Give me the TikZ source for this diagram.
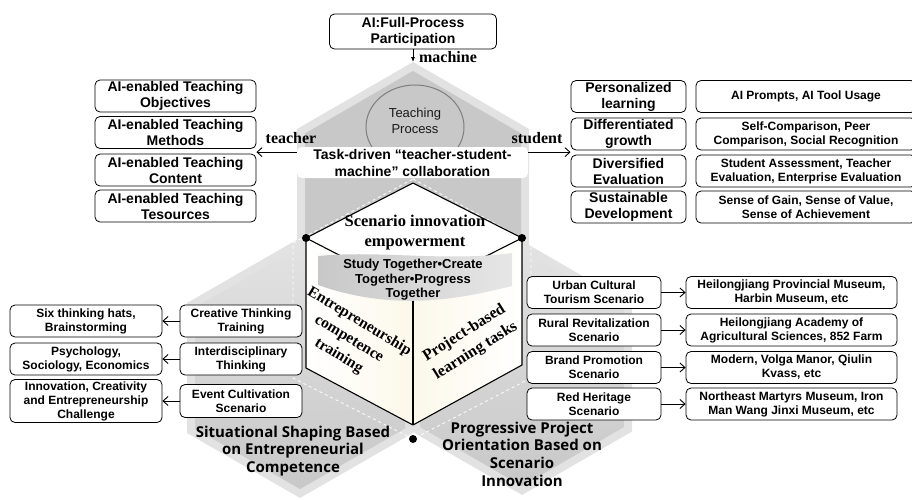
\documentclass[tikz,border=0pt]{standalone}
\usepackage{fontspec}
\setmainfont{Liberation Sans}
\newfontfamily\tnr{Liberation Serif}
\newfontfamily\yh{Open Sans}
\usetikzlibrary{arrows.meta,calc,shapes.geometric}
\definecolor{hexlight}{RGB}{226,226,226}
\definecolor{hexdark}{RGB}{200,200,200}
\definecolor{rimgray}{RGB}{125,125,125}
\definecolor{cream}{RGB}{252,248,234}
\begin{document}
\begin{tikzpicture}[x=1pt,y=-1pt]
        \tikzstyle{every node} = [inner sep=1pt]
        \tikzstyle{bigbox} = [draw, rounded corners=5pt, fill=white, align=center, line width=0.8pt, minimum height=32pt, font=\bfseries\fontsize{14}{16}\selectfont]
        \tikzstyle{smallbox} = [bigbox, font=\bfseries\fontsize{12}{14}\selectfont]
        \tikzstyle{barb} = [line width=0.9pt, -{Straight Barb[length=5pt,width=9pt]}]
        \tikzstyle{serifb} = [align=center, font=\tnr\bfseries\fontsize{16}{20}\selectfont]
        \tikzstyle{hexlab} = [align=center, font=\yh\bfseries\fontsize{15}{17.6}\selectfont]
        \tikzstyle{cubeedge} = [line width=1.1pt, line join=round]

        \useasboundingbox (0,0) rectangle (912,499);
        \clip (0,0) rectangle (912,499);

            % the three hexagons
            \foreach \cx/\cy/\w/\r/\top in {413/196/116/134/hexdark, 300/368/113/130/hexlight, 522/368/110/127/hexlight}{
                \fill[hexlight] (\cx,\cy-\r) -- (\cx+\w,\cy-\r/2) -- (\cx+\w,\cy+\r/2) -- (\cx,\cy+\r) -- (\cx-\w,\cy+\r/2) -- (\cx-\w,\cy-\r/2) -- cycle;
                \shade[top color=\top, middle color=hexdark, bottom color=hexdark] (\cx,\cy-\r+9) -- (\cx+\w-8,\cy-\r/2+4.5) -- (\cx+\w-8,\cy+\r/2-4.5) -- (\cx,\cy+\r-9) -- (\cx-\w+8,\cy+\r/2-4.5) -- (\cx-\w+8,\cy-\r/2+4.5) -- cycle;
            }
            \coordinate (hextop) at (413,62);

            \node[draw=rimgray, fill=hexdark, line width=1pt, ellipse, minimum width=98pt, minimum height=84pt] (proc) at (415,127) {};
            \node[align=center, text=black!90, font=\fontsize{13}{15.5}\selectfont] (proctxt) at (415,121) {Teaching\\Process};

            \draw[white, dashed, line width=0.8pt] (413,179) -- (531,243) -- (531,378) -- (413,439) -- (293,378) -- (293,243) -- cycle;

            % cube in the middle
            \coordinate (ct) at (413,183);
            \coordinate (cl) at (306,238);
            \coordinate (cr) at (522,238);
            \coordinate (cc) at (413,293);
            \coordinate (cbl) at (306,368);
            \coordinate (cb) at (413,425);
            \coordinate (cbr) at (522,365);
            \coordinate (cbot) at (413,439);
               \fill[white] (ct) -- (cr) -- (cc) -- (cl) -- cycle;
               \shade[left color=white, right color=cream] (cl) -- (cc) -- (cb) -- (cbl) -- cycle;
               \shade[left color=cream, right color=white] (cc) -- (cr) -- (cbr) -- (cb) -- cycle;
               \draw[cubeedge] (cbl) -- (cl) -- (ct) -- (cr) -- (cbr) -- (cb) -- cycle;
               \draw[cubeedge] (cl) -- (cc) -- (cr);
               \draw[cubeedge] (cc) -- (cb);
               \shade[left color=hexdark, right color=hexdark!45!white] (318,256) .. controls (380,250) and (445,262) .. (512,253) -- (512,286) .. controls (470,296) and (400,314) .. (318,285) -- cycle;
               \fill (cl) circle (4pt);
               \fill (cr) circle (4pt);
               \fill (cbot) circle (4pt);

            \node[serifb, font=\tnr\bfseries\fontsize{16.5}{20}\selectfont] (scen) at (415,233) {Scenario innovation\\empowerment};
            \node[align=center, font=\bfseries\fontsize{13}{14.5}\selectfont] (study) at (413,280) {Study Together•Create\\Together•Progress\\Together};
            \node[serifb, font=\tnr\bfseries\fontsize{15.5}{20}\selectfont, rotate=-31] (facel) at (349,339) {Entrepreneurship\\competence\\training};
            \node[serifb, font=\tnr\bfseries\fontsize{16}{21}\selectfont, rotate=32] (facer) at (470,342) {Project-based\\learning tasks};

            \node[hexlab] (situ) at (293,451) {Situational Shaping Based\\on Entrepreneurial\\Competence};
            \node[hexlab] (prog) at (522,454) {Progressive Project\\Orientation Based on\\Scenario\\Innovation};

            % top part
            \node[bigbox, minimum width=167pt, minimum height=35pt] (aifull) at (413,31.5) {AI:Full-Process\\Participation};
            \draw[line width=0.8pt, -{Latex[length=5pt,width=4pt]}] (aifull.south) -- (hextop);
            \node[serifb] (mach) at (448,57) {machine};

            \node[fill=white, rounded corners=5pt, minimum width=231pt, minimum height=31pt, align=center, font=\bfseries\fontsize{14}{17}\selectfont] (collab) at (412.5,162.5) {Task-driven “teacher-student-\\machine” collaboration};

            \node[bigbox, minimum width=161pt] (ai1) at (175.5,96) {AI-enabled Teaching\\Objectives};
            \node[bigbox, minimum width=161pt] (ai2) at (175.5,132.5) {AI-enabled Teaching\\Methods};
            \node[bigbox, minimum width=161pt] (ai3) at (175.5,170) {AI-enabled Teaching\\Content};
            \node[bigbox, minimum width=161pt] (ai4) at (175.5,206) {AI-enabled Teaching\\Tesources};

            \node[bigbox, minimum width=115pt] (st1) at (628.5,96.5) {Personalized\\learning};
            \node[bigbox, minimum width=115pt] (st2) at (628.5,134) {Differentiated\\growth};
            \node[bigbox, minimum width=115pt] (st3) at (628.5,171) {Diversified\\Evaluation};
            \node[bigbox, minimum width=115pt] (st4) at (628.5,207) {Sustainable\\Development};

            \node[smallbox, minimum width=220pt] (dt1) at (806,96.5) {AI Prompts, AI Tool Usage};
            \node[smallbox, minimum width=220pt] (dt2) at (806,134) {Self-Comparison, Peer\\Comparison, Social Recognition};
            \node[smallbox, minimum width=220pt] (dt3) at (806,171) {Student Assessment, Teacher\\Evaluation, Enterprise Evaluation};
            \node[smallbox, minimum width=220pt] (dt4) at (806,207) {Sense of Gain, Sense of Value,\\Sense of Achievement};

            \coordinate (tch) at ($(collab.north west)!0.17!(collab.south west)$);
            \coordinate (stu) at ($(collab.north east)!0.17!(collab.south east)$);
            \draw[barb] (tch) -- (tch -| ai2.east);
            \draw[barb] (stu) -- (stu -| st2.west);
            \node[serifb] (tchlab) at (291,138) {teacher};
            \node[serifb] (stulab) at (537,138) {student};

            % bottom left
            \node[smallbox, minimum width=122pt] (sk1) at (241,321) {Creative Thinking\\Training};
            \node[smallbox, minimum width=122pt] (sk2) at (241,359) {Interdisciplinary\\Thinking};
            \node[smallbox, minimum width=122pt, minimum height=33pt] (sk3) at (241,401) {Event Cultivation\\Scenario};
            \node[smallbox, minimum width=152pt] (mt1) at (86,321) {Six thinking hats,\\Brainstorming};
            \node[smallbox, minimum width=152pt] (mt2) at (86,359) {Psychology,\\Sociology, Economics};
            \node[smallbox, minimum width=152pt, minimum height=43pt] (mt3) at (86,401) {Innovation, Creativity\\and Entrepreneurship\\Challenge};
            \foreach \i in {1,2,3}
                \draw[barb] (sk\i) -- (mt\i);

            % bottom right
            \node[smallbox, minimum width=134pt] (sc1) at (594,292.5) {Urban Cultural\\Tourism Scenario};
            \node[smallbox, minimum width=134pt] (sc2) at (594,330) {Rural Revitalization\\Scenario};
            \node[smallbox, minimum width=134pt] (sc3) at (594,367.5) {Brand Promotion\\Scenario};
            \node[smallbox, minimum width=134pt] (sc4) at (594,404) {Red Heritage\\Scenario};
            \node[smallbox, minimum width=211pt] (pl1) at (791.5,292.5) {Heilongjiang Provincial Museum,\\Harbin Museum, etc};
            \node[smallbox, minimum width=211pt] (pl2) at (791.5,330) {Heilongjiang Academy of\\Agricultural Sciences, 852 Farm};
            \node[smallbox, minimum width=211pt] (pl3) at (791.5,367.5) {Modern, Volga Manor, Qiulin\\Kvass, etc};
            \node[smallbox, minimum width=211pt] (pl4) at (791.5,404) {Northeast Martyrs Museum, Iron\\Man Wang Jinxi Museum, etc};
            \foreach \i in {1,...,4}
                \draw[barb] (sc\i) -- (pl\i);
\end{tikzpicture}
\end{document}
